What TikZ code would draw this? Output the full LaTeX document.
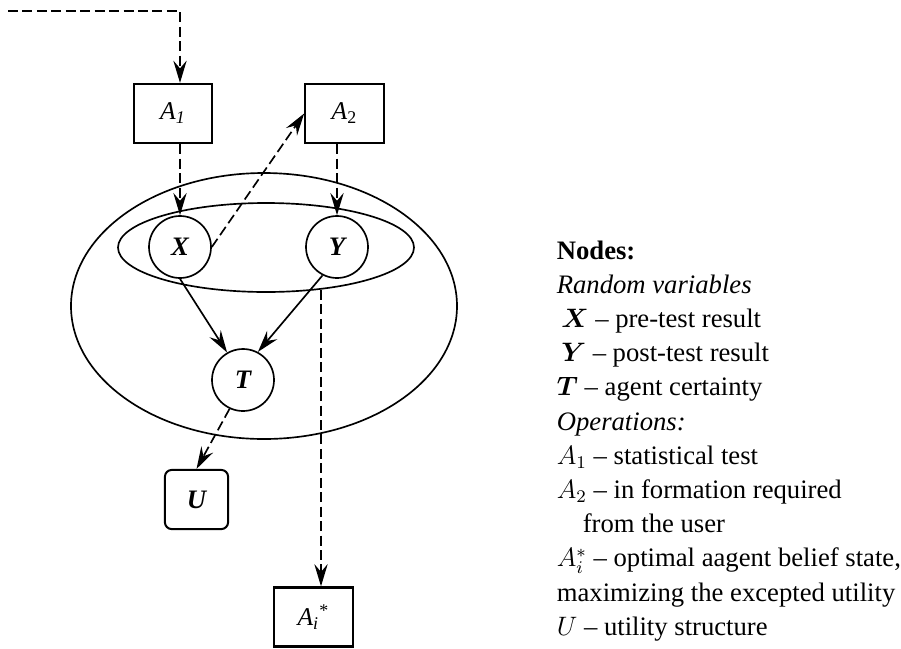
\documentclass[tikz,border=0pt]{standalone}
\usepackage{amsmath}
\usepackage{fontspec}
\setmainfont{Liberation Serif}
\usetikzlibrary{arrows.meta, calc}

\tikzset{
    rv/.style = {draw, circle, minimum size = 27.9pt, inner sep = 0pt, font = \fontsize{12}{14}\selectfont\bfseries\itshape},
    op/.style = {draw, rectangle, line width = 1pt, minimum width = 35.3pt, minimum height = 26.6pt, inner sep = 0pt, font = \fontsize{11.5}{13}\selectfont},
    util/.style = {draw, rectangle, line width = 0.9pt, rounded corners = 3pt, minimum width = 28.4pt, minimum height = 26.6pt, inner sep = 0pt, font = \fontsize{12}{14}\selectfont\bfseries\itshape},
    link/.style = {-{Stealth[length = 10pt, width = 6pt, inset = 3.5pt]}},
    dlink/.style = {link, dash pattern = on 4.5pt off 2pt},
    legend/.style = {anchor = base west, inner sep = 0pt, font = \fontsize{12}{14}\selectfont}
}

\begin{document}
\begin{tikzpicture}[x = 0.45pt, y = -0.45pt, line width = 0.75pt]
            \useasboundingbox (0, 0) rectangle (901, 648);

            \coordinate (src) at (8, 11);
            \coordinate (drop) at (321, 290);

            \draw (264, 306) ellipse [x radius = 193, y radius = 133];
            \draw (266, 247.5) ellipse [x radius = 148, y radius = 44.5];

            \node[op] (op_a1) at (173, 113.5) {\textit{A}\textsubscript{\textit{1}}\hspace{9pt}};
            \node[op] (op_a2) at (344.5, 113.5) {\textit{A}\textsubscript{2}\hspace{9pt}};
            \node[rv] (rv_x) at (180, 247) {X};
            \node[rv] (rv_y) at (337, 247) {Y};
            \node[rv] (rv_t) at (243, 380) {T};
            \node[util] (util_u) at (196.5, 499.5) {U};
            \node[op] (op_best) at (313.5, 617) {\textit{A\textsubscript{i}}\textsuperscript{*}\hspace{9pt}};

            \draw[dlink] (src) -| (op_a1.north -| rv_x);
            \draw[dlink] (op_a1.south -| rv_x) -- (rv_x.north);
            \draw[dlink] (op_a2.south -| rv_y) -- (rv_y.north);
            \draw[dlink] (rv_x.east) -- (op_a2.west);
            \draw[link] (rv_x.south) -- (rv_t.120);
            \draw[link] (rv_y.243) -- (rv_t.62);
            \draw[dlink] (rv_t.245) -- (util_u.north);
            \draw[dlink] (drop) -- (op_best.north -| drop);

            \foreach \i/\txt in {0/{\textbf{Nodes:}},
                                 1/{\textit{Random variables}},
                                 2/{\,$\boldsymbol{X}$ -- pre-test result},
                                 3/{\,$\boldsymbol{Y}$ -- post-test result},
                                 4/{$\boldsymbol{T}$ -- agent certainty},
                                 5/{\textit{Operations:}},
                                 6/{$A_1$ -- statistical test},
                                 7/{$A_2$ -- in formation required},
                                 8/{\hspace*{11.7pt}from the user},
                                 9/{$A_i^*$ -- optimal aagent belief state,},
                                 10/{maximizing the excepted utility},
                                 11/{$U$ -- utility structure}}
                \node[legend] (leg_\i) at (556, 259 + 34.2*\i) {\txt};
        \end{tikzpicture}
\end{document}
